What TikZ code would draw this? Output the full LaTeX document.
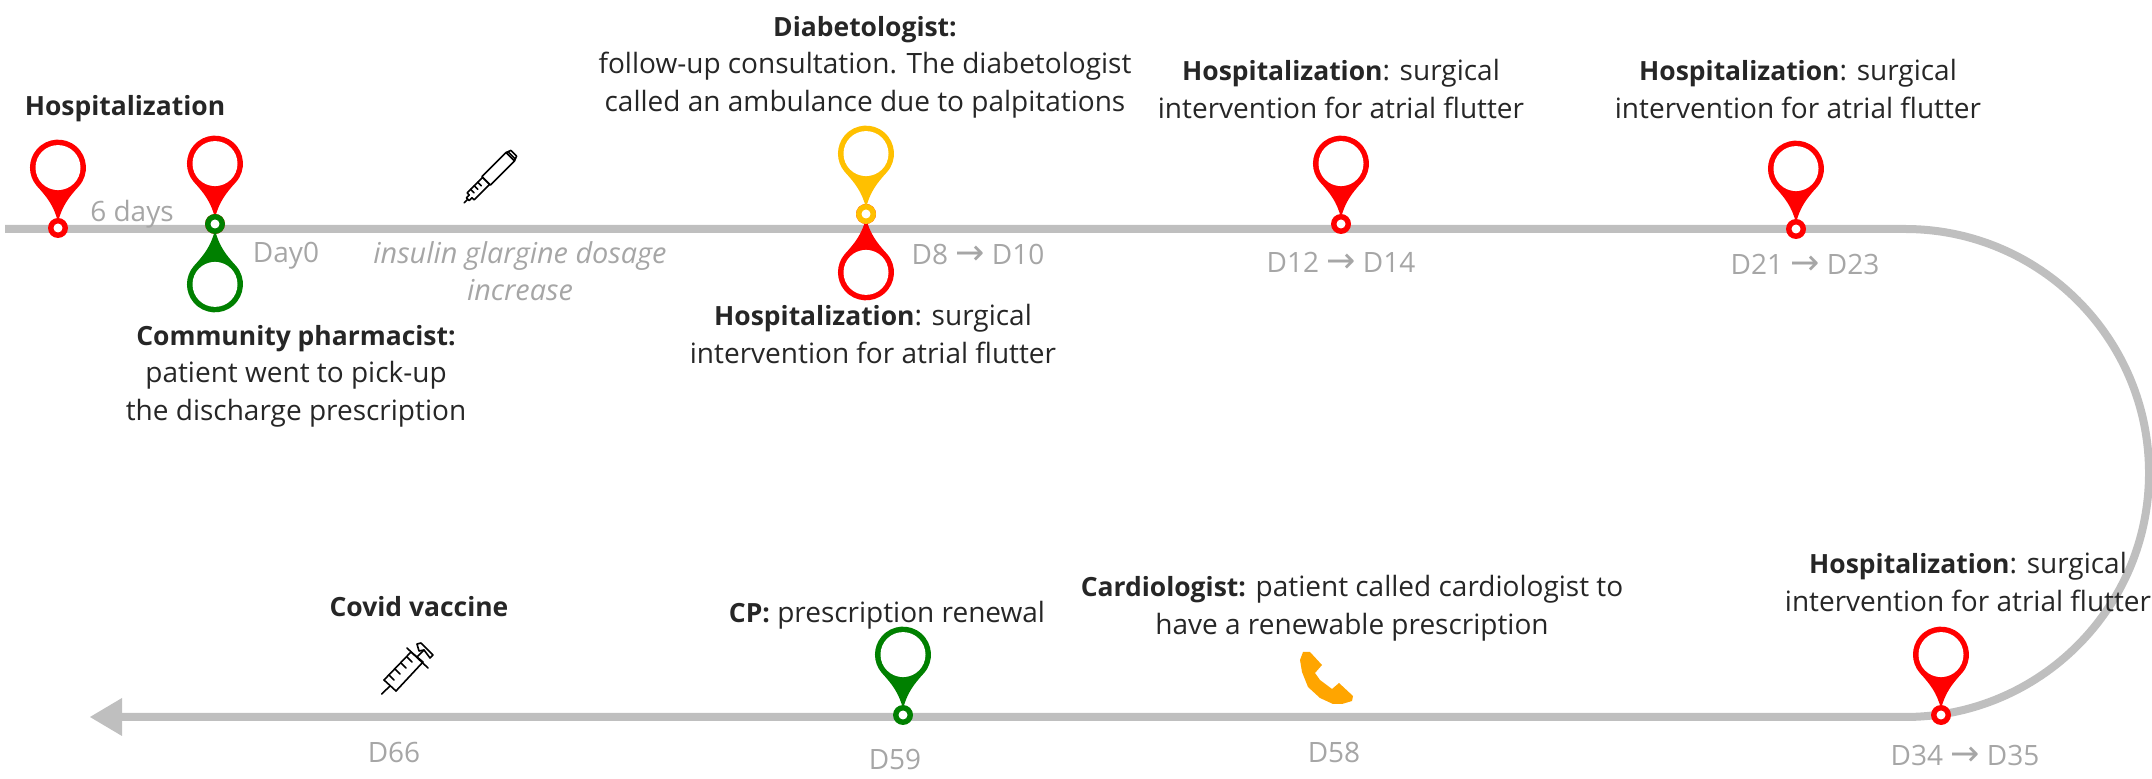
\documentclass[tikz,border=0pt]{standalone}
\usepackage{fontspec}
\setmainfont{Open Sans}[BoldFeatures={Scale=0.945},ItalicFeatures={Scale=1.03}]
\newfontfamily\arrowfont[Scale=1.25]{DejaVu Sans}
\definecolor{linegray}{HTML}{BFBFBF}
\definecolor{txtgray}{HTML}{A6A6A6}
\definecolor{txtdark}{HTML}{262626}
\definecolor{pinred}{HTML}{FF0000}
\definecolor{pingreen}{HTML}{008000}
\definecolor{pinyellow}{HTML}{FFC000}
\definecolor{phoneorange}{HTML}{FFA500}
\newcommand{\arr}{{\arrowfont\char"2192}}
\newcommand{\pinshape}[1]{%
  \fill[#1] (0,-6) .. controls (4,-22) and (11,-31) .. (21.1,-42) arc[start angle=41,end angle=-221,radius=28] .. controls (-11,-31) and (-4,-22) .. cycle;
  \fill[white] (0,-60.4) circle[radius=22.5];
}
\newcommand{\pinring}[1]{%
  \fill[#1] (0,0) circle[radius=10];
  \fill[white] (0,0) circle[radius=4.5];
}
\tikzset{
  x=0.5pt,y=-0.5pt,
  dark/.style={text=txtdark,font=\fontsize{14}{18.8}\selectfont,align=center,inner sep=0pt},
  gray/.style={text=txtgray,font=\fontsize{14}{18.8}\selectfont,align=center,inner sep=0pt},
  track/.style={draw=linegray,line width=4pt},
  icon/.style={line width=0.8pt,line join=round,line cap=round,draw=black}
}
\begin{document}
\begin{tikzpicture}
\useasboundingbox (0,0) rectangle (2152,779);
% track
\coordinate (start) at (5,229);
\coordinate (arcTop) at (1905,229);
\coordinate (tipbase) at (122,717);
\draw[track] (start) -- (arcTop) arc[start angle=-90,end angle=90,radius=244] -- (tipbase);
\fill[linegray] (90,717) -- (122,698) -- (122,736) -- cycle;
% pins
\begin{scope}[shift={(58,228)}]\pinshape{pinred}\pinring{pinred}\end{scope}
\begin{scope}[shift={(215,224)}]\pinshape{pinred}\pinring{pinred}\end{scope}
\begin{scope}[shift={(215,224)},yscale=-1]\pinshape{pingreen}\end{scope}
\begin{scope}[shift={(215,224)}]\pinring{pingreen}\end{scope}
\begin{scope}[shift={(866,212)},yscale=-1]\pinshape{pinred}\end{scope}
\begin{scope}[shift={(866,214)}]\pinring{pinred}\end{scope}
\begin{scope}[shift={(866,214)}]\pinshape{pinyellow}\pinring{pinyellow}\end{scope}
\begin{scope}[shift={(1341,224)}]\pinshape{pinred}\pinring{pinred}\end{scope}
\begin{scope}[shift={(1796,229)}]\pinshape{pinred}\pinring{pinred}\end{scope}
\begin{scope}[shift={(1941,715)}]\pinshape{pinred}\pinring{pinred}\end{scope}
\begin{scope}[shift={(903,715)}]\pinshape{pingreen}\pinring{pingreen}\end{scope}
% pen icon
\begin{scope}[shift={(489,178)},rotate=45,icon]
  \draw (-35,0) -- (-30,0);
  \draw (-30,-2) -- (-26,-2) -- (-26,-5) -- (-4,-5) -- (-4,5) -- (-26,5) -- (-26,2) -- (-30,2) -- cycle;
  \draw (-21,-5) -- (-21,0) (-16,-5) -- (-16,0) (-11,-5) -- (-11,0);
  \draw (-4,-6) -- (30,-6) -- (30,6) -- (-4,6) -- cycle;
  \draw (30,-6) -- (35,-4) -- (35,4) -- (30,6) (32,-5) -- (32,5);
\end{scope}
% syringe icon
\begin{scope}[icon]
  \draw (381.7,694) -- (390,686);
  \draw (384,680) -- (396,691);
  \draw (384,680) -- (411,652) -- (423,662) -- (396,691);
  \draw (407,648) -- (428,668);
  \draw (417,657) -- (424,650);
  \draw (417,644) -- (421,643) -- (433,655) -- (430,658) -- (424,650) -- (419,651) -- cycle;
  \draw (389,675) -- (394,680) (395,669) -- (400,674) (401,663) -- (406,668) (407,657) -- (412,662);
\end{scope}
% phone icon
\fill[phoneorange] (1303,652) -- (1310,652) -- (1322,665) -- (1315,673) -- (1320,680) -- (1332,689) -- (1339,683) -- (1353,696) -- (1352,701) -- (1342,704) -- (1333,704) -- (1320,698) -- (1308,687) -- (1302,672) -- (1300,660) -- cycle;
% labels
\node[dark] (n1) at (125,109) {\textbf{Hospitalization}};
\node[gray] (n2) at (132,214) {6 days};
\node[gray] (n3) at (286,256) {Day0};
\node[gray] (n4) at (520,271) {\textit{insulin glargine dosage}\\\textit{increase}};
\node[dark] (n5) at (296,376) {\textbf{Community pharmacist:}\\patient went to pick-up\\the discharge prescription};
\node[dark] (n6) at (865,67) {\textbf{Diabetologist:}\\follow-up consultation. The diabetologist\\called an ambulance due to palpitations};
\node[dark] (n7) at (873,334) {\textbf{Hospitalization}: surgical\\intervention for atrial flutter};
\node[dark] (n8) at (1341,89) {\textbf{Hospitalization}: surgical\\intervention for atrial flutter};
\node[dark] (n9) at (1798,89) {\textbf{Hospitalization}: surgical\\intervention for atrial flutter};
\node[dark] (n10) at (1968,582) {\textbf{Hospitalization}: surgical\\intervention for atrial flutter};
\node[dark] (n11) at (419,607) {\textbf{Covid vaccine}};
\node[dark] (n12) at (887,615) {\textbf{CP:} prescription renewal};
\node[dark] (n13) at (1352,608) {\textbf{Cardiologist:} patient called cardiologist to\\have a renewable prescription};
\node[gray] (d1) at (978,254) {D8 \arr{} D10};
\node[gray] (d2) at (1341,262) {D12 \arr{} D14};
\node[gray] (d3) at (1805,265) {D21 \arr{} D23};
\node[gray] (d4) at (1965,755) {D34 \arr{} D35};
\node[gray] (d5) at (1334,752) {D58};
\node[gray] (d6) at (895,759) {D59};
\node[gray] (d7) at (394,752) {D66};
\end{tikzpicture}
\end{document}
